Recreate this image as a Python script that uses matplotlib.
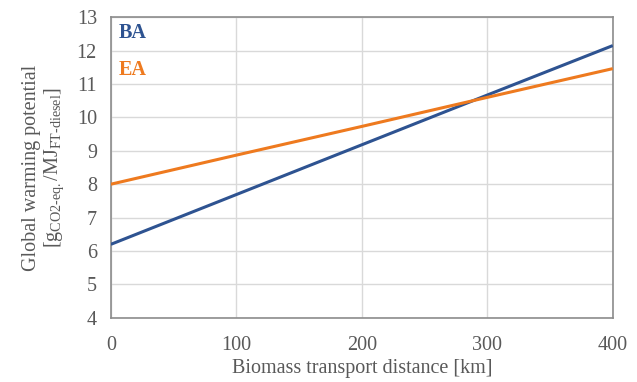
import matplotlib
matplotlib.use("Agg")
import matplotlib.pyplot as plt

plt.rcParams["font.family"] = ["Liberation Serif", "DejaVu Serif"]
plt.rcParams["mathtext.fontset"] = "custom"
plt.rcParams["mathtext.rm"] = "Liberation Serif"
plt.rcParams["mathtext.it"] = "Liberation Serif:italic"
plt.rcParams["mathtext.bf"] = "Liberation Serif:bold"

# values
distance = [0, 100, 200, 300, 400]
ba_gwp = [6.2, 7.69, 9.18, 10.67, 12.15]
ea_gwp = [8.0, 8.87, 9.73, 10.6, 11.46]
x_ticks = [0, 100, 200, 300, 400]
y_ticks = [4, 5, 6, 7, 8, 9, 10, 11, 12, 13]

BLUE = "#2E5391"
ORANGE = "#EE7A1F"
TEXT = "#595959"

fig = plt.figure(figsize=(6.37, 3.82), dpi=100)
ax = fig.add_axes([0.174, 0.168, 0.788, 0.787])

ax.plot(distance, ba_gwp, color=BLUE, lw=2.2, solid_capstyle="butt", zorder=3)
ax.plot(distance, ea_gwp, color=ORANGE, lw=2.2, solid_capstyle="butt", zorder=3)

ax.set_xlim(0, 400)
ax.set_ylim(4, 13)
ax.set_xticks(x_ticks)
ax.set_yticks(y_ticks)
ax.grid(True, color="#d9d9d9", lw=1.0)
ax.set_axisbelow(True)
for s in ax.spines.values():
    s.set_color("#8c8c8c")
    s.set_linewidth(1.2)
ax.tick_params(length=0, labelsize=14.5, labelcolor=TEXT)
ax.tick_params(axis="x", pad=13)
ax.tick_params(axis="y", pad=10)

ax.set_xlabel("Biomass transport distance [km]", fontsize=14.5, color=TEXT, labelpad=3)
ax.set_ylabel("Global warming potential\n"
              r"[g$_{\mathrm{CO2\text{-}eq.}}$/MJ$_{\mathrm{FT\text{-}diesel}}$]",
              fontsize=14.5, color=TEXT, labelpad=8, linespacing=1.05)

ax.text(0.015, 0.947, "BA", transform=ax.transAxes, color=BLUE,
        fontsize=14.5, fontweight="bold", va="center", ha="left")
ax.text(0.015, 0.824, "EA", transform=ax.transAxes, color=ORANGE,
        fontsize=14.5, fontweight="bold", va="center", ha="left")

fig.savefig("out.png", dpi=100)
